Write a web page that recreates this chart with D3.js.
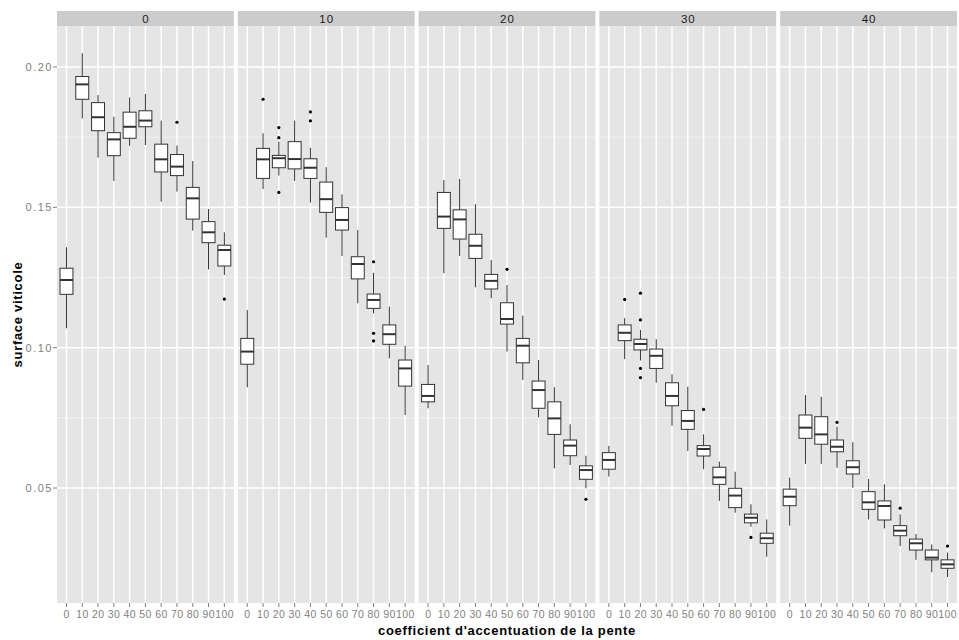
<!DOCTYPE html>
<html>
<head>
<meta charset="utf-8">
<script src="https://cdn.jsdelivr.net/npm/d3@7"></script>
<style>
  html, body { margin: 0; padding: 0; background: #ffffff; }
  svg { display: block; }
</style>
</head>
<body>
<svg id="chart" width="959" height="640"></svg>
<script>
// ---------------- data ----------------
const facetLabels = ["0", "10", "20", "30", "40"];
const categories = ["0", "10", "20", "30", "40", "50", "60", "70", "80", "90", "100"];
const yTickValues = [0.05, 0.10, 0.15, 0.20];
const yTickLabels = ["0.05", "0.10", "0.15", "0.20"];
const yMinorValues = [0.075, 0.125, 0.175];

// each row: [lower whisker, Q1, median, Q3, upper whisker], one row per category
const stats0 = [
  [0.1069, 0.1190, 0.1241, 0.1283, 0.1358],
  [0.1817, 0.1885, 0.1938, 0.1966, 0.2049],
  [0.1677, 0.1773, 0.1821, 0.1873, 0.1900],
  [0.1594, 0.1684, 0.1742, 0.1766, 0.1823],
  [0.1719, 0.1746, 0.1787, 0.1839, 0.1891],
  [0.1722, 0.1787, 0.1809, 0.1844, 0.1904],
  [0.1520, 0.1626, 0.1671, 0.1725, 0.1809],
  [0.1556, 0.1613, 0.1645, 0.1688, 0.1720],
  [0.1417, 0.1458, 0.1532, 0.1571, 0.1665],
  [0.1279, 0.1374, 0.1411, 0.1449, 0.1494],
  [0.1259, 0.1291, 0.1348, 0.1365, 0.1411]
];
const stats10 = [
  [0.0859, 0.0941, 0.0986, 0.1033, 0.1134],
  [0.1565, 0.1603, 0.1671, 0.1710, 0.1764],
  [0.1613, 0.1641, 0.1675, 0.1685, 0.1734],
  [0.1594, 0.1637, 0.1672, 0.1734, 0.1809],
  [0.1517, 0.1603, 0.1641, 0.1673, 0.1712],
  [0.1392, 0.1482, 0.1529, 0.1590, 0.1643],
  [0.1327, 0.1419, 0.1455, 0.1499, 0.1546],
  [0.1158, 0.1245, 0.1298, 0.1324, 0.1419],
  [0.1122, 0.1140, 0.1170, 0.1191, 0.1267],
  [0.0962, 0.1012, 0.1048, 0.1081, 0.1146],
  [0.0760, 0.0863, 0.0926, 0.0956, 0.1007]
];
const stats20 = [
  [0.0784, 0.0807, 0.0828, 0.0869, 0.0938],
  [0.1265, 0.1425, 0.1467, 0.1553, 0.1597],
  [0.1327, 0.1387, 0.1457, 0.1491, 0.1601],
  [0.1215, 0.1318, 0.1363, 0.1404, 0.1511],
  [0.1176, 0.1209, 0.1238, 0.1261, 0.1312],
  [0.0986, 0.1084, 0.1102, 0.1160, 0.1223],
  [0.0885, 0.0946, 0.1007, 0.1033, 0.1114],
  [0.0752, 0.0784, 0.0849, 0.0881, 0.0956],
  [0.0570, 0.0691, 0.0748, 0.0807, 0.0859],
  [0.0582, 0.0615, 0.0651, 0.0671, 0.0727],
  [0.0499, 0.0531, 0.0564, 0.0579, 0.0615]
];
const stats30 = [
  [0.0541, 0.0567, 0.0600, 0.0626, 0.0650],
  [0.0959, 0.1025, 0.1053, 0.1081, 0.1105],
  [0.0954, 0.0992, 0.1013, 0.1030, 0.1063],
  [0.0875, 0.0926, 0.0971, 0.0995, 0.1030],
  [0.0722, 0.0793, 0.0828, 0.0875, 0.0905],
  [0.0632, 0.0709, 0.0739, 0.0776, 0.0861],
  [0.0567, 0.0614, 0.0639, 0.0651, 0.0691],
  [0.0454, 0.0513, 0.0538, 0.0574, 0.0594],
  [0.0412, 0.0430, 0.0473, 0.0499, 0.0558],
  [0.0362, 0.0376, 0.0394, 0.0407, 0.0442],
  [0.0255, 0.0303, 0.0321, 0.0339, 0.0388]
];
const stats40 = [
  [0.0366, 0.0437, 0.0469, 0.0496, 0.0537],
  [0.0586, 0.0677, 0.0715, 0.0760, 0.0831],
  [0.0586, 0.0656, 0.0691, 0.0754, 0.0825],
  [0.0572, 0.0629, 0.0647, 0.0671, 0.0718],
  [0.0501, 0.0550, 0.0574, 0.0597, 0.0663],
  [0.0388, 0.0424, 0.0449, 0.0487, 0.0532],
  [0.0356, 0.0386, 0.0436, 0.0454, 0.0513],
  [0.0293, 0.0330, 0.0348, 0.0366, 0.0406],
  [0.0244, 0.0279, 0.0303, 0.0318, 0.0336],
  [0.0200, 0.0244, 0.0252, 0.0279, 0.0299],
  [0.0183, 0.0214, 0.0228, 0.0244, 0.0270]
];

// outliers: [category, value]
const outliers0 = [["70", 0.1803], ["100", 0.1173]];
const outliers10 = [["10", 0.1885], ["20", 0.1784], ["20", 0.1748], ["20", 0.1553],
  ["40", 0.1840], ["40", 0.1808], ["80", 0.1306], ["80", 0.1051], ["80", 0.1024]];
const outliers20 = [["50", 0.1279], ["100", 0.0460]];
const outliers30 = [["10", 0.1172], ["20", 0.1194], ["20", 0.1099], ["20", 0.0926],
  ["20", 0.0893], ["60", 0.0780], ["90", 0.0324]];
const outliers40 = [["30", 0.0734], ["70", 0.0428], ["100", 0.0293]];

const xTitle = "coefficient d'accentuation de la pente";
const yTitle = "surface viticole";

// ---------------- layout ----------------
const facets = facetLabels.map((label, i) => ({
  label,
  stats: [stats0, stats10, stats20, stats30, stats40][i],
  outliers: [outliers0, outliers10, outliers20, outliers30, outliers40][i]
}));

const plotLeft = 57, plotRight = 957;
const stripTop = 11, panelTop = 26, panelBottom = 603;
const gap = 4;
const panelW = (plotRight - plotLeft - gap * (facets.length - 1)) / facets.length;

const svg = d3.select("#chart");
const font = "'Liberation Sans', Arial, Helvetica, sans-serif";

const y = d3.scaleLinear().domain([0.00903, 0.2146]).range([panelBottom, panelTop]);
const x = d3.scalePoint().domain(categories).range([0, panelW]).padding(0.6);
const boxW = x.step() * 0.82;

const ink = "#333333";
const tickLS = 0.4;

facets.forEach((f, i) => {
  const px = plotLeft + i * (panelW + gap);
  const g = svg.append("g").attr("transform", `translate(${px},0)`);

  // strip
  g.append("rect").attr("x", 0).attr("y", stripTop).attr("width", panelW)
    .attr("height", panelTop - stripTop).attr("fill", "#cccccc");
  g.append("text").attr("x", panelW / 2 + 0.5).attr("y", (stripTop + panelTop) / 2 + 4)
    .attr("text-anchor", "middle").attr("font-family", font).attr("font-size", 11.5)
    .attr("letter-spacing", "1px")
    .attr("fill", "#1a1a1a").text(f.label);

  // panel background
  g.append("rect").attr("x", 0).attr("y", panelTop).attr("width", panelW)
    .attr("height", panelBottom - panelTop).attr("fill", "#e5e5e5");

  // minor grid
  g.selectAll(".ymin").data(yMinorValues).enter().append("line")
    .attr("x1", 0).attr("x2", panelW)
    .attr("y1", d => y(d)).attr("y2", d => y(d))
    .attr("stroke", "#f2f2f2").attr("stroke-width", 1);
  // major grid
  g.selectAll(".ymaj").data(yTickValues).enter().append("line")
    .attr("x1", 0).attr("x2", panelW)
    .attr("y1", d => y(d)).attr("y2", d => y(d))
    .attr("stroke", "#ffffff").attr("stroke-width", 1.5);
  g.selectAll(".xmaj").data(categories).enter().append("line")
    .attr("x1", d => x(d)).attr("x2", d => x(d))
    .attr("y1", panelTop).attr("y2", panelBottom)
    .attr("stroke", "#ffffff").attr("stroke-width", 1.5);

  // boxes
  const boxes = g.selectAll(".box").data(f.stats.map((s, k) => ({ cat: categories[k], s })))
    .enter().append("g");
  boxes.append("line")
    .attr("x1", d => x(d.cat)).attr("x2", d => x(d.cat))
    .attr("y1", d => y(d.s[4])).attr("y2", d => y(d.s[3]))
    .attr("stroke", ink).attr("stroke-width", 1);
  boxes.append("line")
    .attr("x1", d => x(d.cat)).attr("x2", d => x(d.cat))
    .attr("y1", d => y(d.s[1])).attr("y2", d => y(d.s[0]))
    .attr("stroke", ink).attr("stroke-width", 1);
  boxes.append("rect")
    .attr("x", d => x(d.cat) - boxW / 2).attr("width", boxW)
    .attr("y", d => y(d.s[3])).attr("height", d => y(d.s[1]) - y(d.s[3]))
    .attr("fill", "#ffffff").attr("stroke", ink).attr("stroke-width", 1);
  boxes.append("line")
    .attr("x1", d => x(d.cat) - boxW / 2).attr("x2", d => x(d.cat) + boxW / 2)
    .attr("y1", d => y(d.s[2])).attr("y2", d => y(d.s[2]))
    .attr("stroke", ink).attr("stroke-width", 2);

  // outliers
  g.selectAll(".out").data(f.outliers).enter().append("circle")
    .attr("cx", d => x(d[0])).attr("cy", d => y(d[1])).attr("r", 1.6)
    .attr("fill", "#000000");

  // x axis ticks & labels
  const xa = g.append("g").attr("transform", `translate(0,${panelBottom})`);
  xa.selectAll("line").data(categories).enter().append("line")
    .attr("x1", d => x(d)).attr("x2", d => x(d)).attr("y1", 0).attr("y2", 4)
    .attr("stroke", "#7f7f7f").attr("stroke-width", 1);
  xa.selectAll("text").data(categories).enter().append("text")
    .attr("x", d => x(d) + tickLS / 2).attr("y", 15).attr("text-anchor", "middle")
    .attr("font-family", font).attr("font-size", 10.5).attr("letter-spacing", tickLS + "px")
    .attr("fill", "#7f7f7f").text(d => d);
});

// y axis
const ya = svg.append("g");
ya.selectAll("line").data(yTickValues).enter().append("line")
  .attr("x1", plotLeft - 4).attr("x2", plotLeft).attr("y1", d => y(d)).attr("y2", d => y(d))
  .attr("stroke", "#7f7f7f").attr("stroke-width", 1);
ya.selectAll("text").data(yTickValues).enter().append("text")
  .attr("x", plotLeft - 4).attr("y", d => y(d) + 4).attr("text-anchor", "end")
  .attr("font-family", font).attr("font-size", 11).attr("letter-spacing", "1.5px")
  .attr("fill", "#7f7f7f").text((d, i) => yTickLabels[i]);

// titles
svg.append("text").attr("x", (plotLeft + plotRight) / 2).attr("y", 635)
  .attr("text-anchor", "middle").attr("font-family", font).attr("font-size", 13)
  .attr("letter-spacing", "0.7px")
  .attr("font-weight", "bold").attr("fill", "#000").text(xTitle);
svg.append("text")
  .attr("transform", `translate(22,${(panelTop + panelBottom) / 2}) rotate(-90)`)
  .attr("text-anchor", "middle").attr("font-family", font).attr("font-size", 13)
  .attr("letter-spacing", "0.7px")
  .attr("font-weight", "bold").attr("fill", "#000").text(yTitle);
</script>
</body>
</html>
